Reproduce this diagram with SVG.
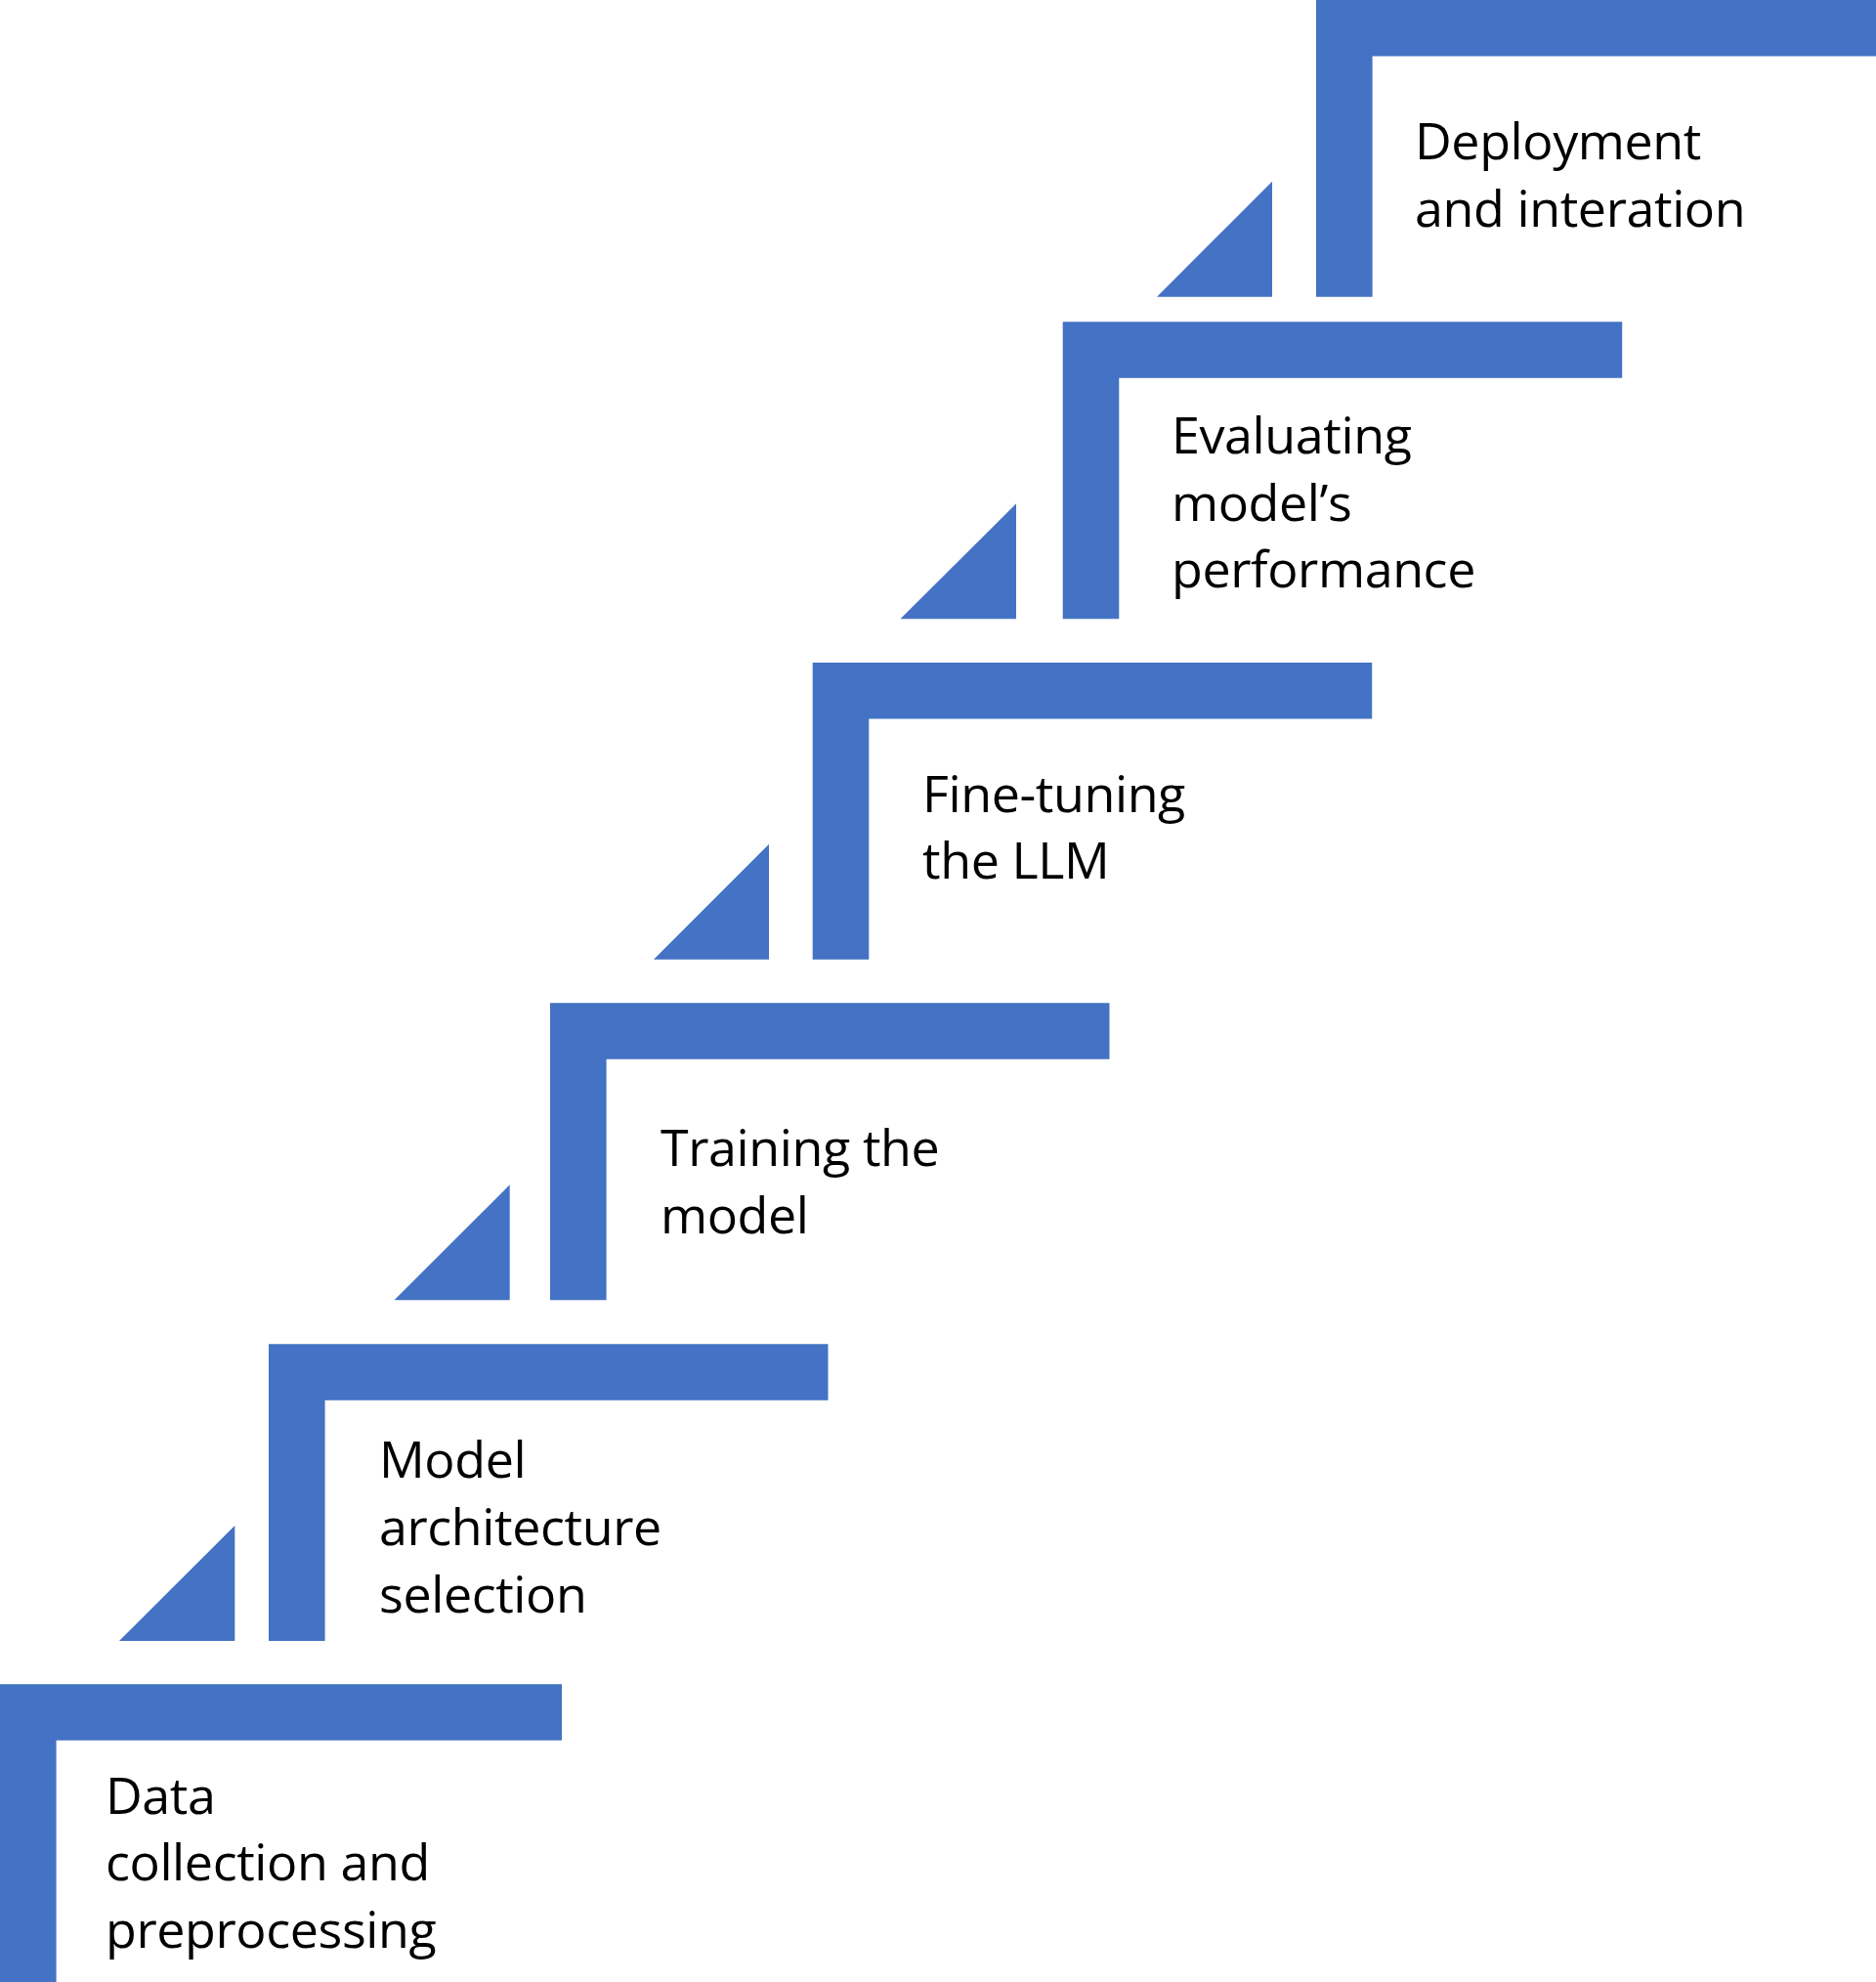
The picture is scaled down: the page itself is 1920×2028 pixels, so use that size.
<svg xmlns="http://www.w3.org/2000/svg" width="1920" height="2028" viewBox="0 0 1920 2028">
<style>
.step{fill:#4472C4}
.lbl{font-family:"Open Sans","Noto Sans","DejaVu Sans",sans-serif;font-size:52px;letter-spacing:-0.4px;fill:#000}
</style>
<rect width="1920" height="2028" fill="#fff"/>
<g id="step-data">
<path class="step" d="M0 1723.3H575V1780.7H57.6V2028H0Z"/>
<text class="lbl"><tspan x="108" y="1855.7">Data</tspan><tspan x="108" y="1924.3">collection and</tspan><tspan x="108" y="1993">preprocessing</tspan></text>
</g>
<g id="step-model">
<path class="step" d="M275 1375.3H847.5V1432.7H332.6V1679H275Z"/>
<path class="step" d="M122 1679H240.3V1561Z"/>
<text class="lbl"><tspan x="388" y="1512.3">Model</tspan><tspan x="388" y="1581">architecture</tspan><tspan x="388" y="1650">selection</tspan></text>
</g>
<g id="step-training">
<path class="step" d="M563 1026.3H1135.5V1083.7H620.6V1330.3H563Z"/>
<path class="step" d="M403.5 1330.3H521.7V1212.3Z"/>
<text class="lbl"><tspan x="676" y="1193.3">Training the</tspan><tspan x="676" y="1262.3">model</tspan></text>
</g>
<g id="step-finetuning">
<path class="step" d="M831.7 678H1404.2V735.4H889.3V981.7H831.7Z"/>
<path class="step" d="M669 981.7H787V863.7Z"/>
<text class="lbl"><tspan x="944" y="830.7">Fine-tuning</tspan><tspan x="944" y="899.3">the LLM</tspan></text>
</g>
<g id="step-evaluating">
<path class="step" d="M1087.7 329.3H1660.2V386.7H1145.3V633.3H1087.7Z"/>
<path class="step" d="M921.5 633.3H1040V515.3Z"/>
<text class="lbl"><tspan x="1199" y="464.3">Evaluating</tspan><tspan x="1199" y="532.7">model’s</tspan><tspan x="1199" y="601.1">performance</tspan></text>
</g>
<g id="step-deployment">
<path class="step" d="M1347 0H1920V57.4H1404.6V303.7H1347Z"/>
<path class="step" d="M1184 303.7H1302V185.7Z"/>
<text class="lbl"><tspan x="1448" y="163.3">Deployment</tspan><tspan x="1448" y="231.7">and interation</tspan></text>
</g>
</svg>
